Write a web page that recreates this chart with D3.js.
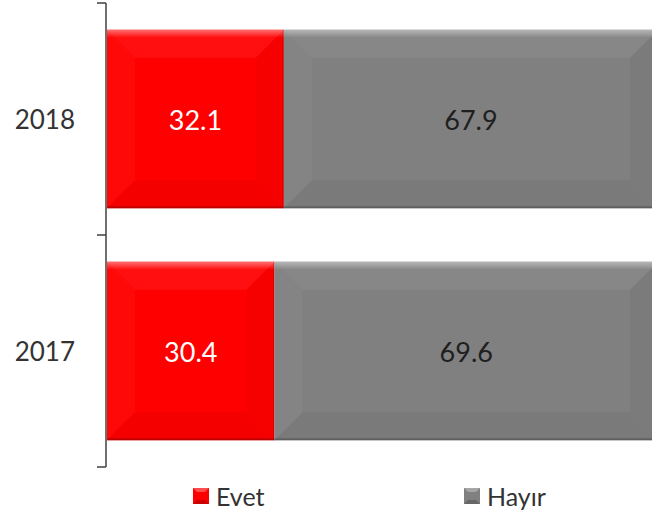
<!DOCTYPE html>
<html>
<head>
<meta charset="utf-8">
<script src="https://cdn.jsdelivr.net/npm/d3@7"></script>
<style>
  body { margin: 0; background: #fff; }
  svg { display: block; }
</style>
</head>
<body>
<script>
const width = 652;
const height = 515;

// datos
const years = ["2018", "2017"];
const evet = [32.1, 30.4];
const hayir = [67.9, 69.6];
const seriesNames = ["Evet", "Hayır"];
const seriesColors = ["#ff0000", "#808080"];
const labelColors = ["#ffffff", "#1f1f1f"];

const font = "Lato, 'Open Sans', sans-serif";
const bevel = 28;

const svg = d3.select("body")
  .append("svg")
  .attr("width", width)
  .attr("height", height);

const defs = svg.append("defs");
const clip = defs.append("clipPath").attr("id", "plot-clip");
clip.append("rect").attr("x", 0).attr("y", 0).attr("width", width).attr("height", height);

const topShine = defs.append("linearGradient")
  .attr("id", "top-shine").attr("x1", 0).attr("y1", 0).attr("x2", 0).attr("y2", 1);
topShine.append("stop").attr("offset", "0%").attr("stop-color", "#fff").attr("stop-opacity", 0.4);
topShine.append("stop").attr("offset", "100%").attr("stop-color", "#fff").attr("stop-opacity", 0);

const x = d3.scaleLinear().domain([0, 100]).range([107, 658]);
const y = d3.scaleBand().domain(years).range([3, 467])
  .paddingInner(0.23).paddingOuter(0.115);

// filas con segmentos acumulados
const rows = years.map((yr, i) => {
  const vals = [evet[i], hayir[i]];
  let acc = 0;
  return {
    year: yr,
    segs: vals.map((v, k) => {
      const s = {k, v, x0: acc, x1: acc + v};
      acc += v;
      return s;
    })
  };
});

const plot = svg.append("g").attr("clip-path", "url(#plot-clip)");

const rowG = plot.selectAll("g.row")
  .data(rows)
  .join("g")
  .attr("class", "row");

rowG.each(function (row) {
  const g = d3.select(this);
  const y0 = y(row.year);
  const y1 = y0 + y.bandwidth();
  row.segs.forEach(s => {
    const a = x(s.x0), b = x(s.x1);
    const bv = Math.min(bevel, (b - a) / 2, (y1 - y0) / 2);
    const seg = g.append("g");
    seg.append("rect")
      .attr("x", a).attr("y", y0)
      .attr("width", b - a).attr("height", y1 - y0)
      .attr("fill", seriesColors[s.k]);
    // biseles suaves
    const faces = [
      {pts: [[a, y0], [b, y0], [b - bv, y0 + bv], [a + bv, y0 + bv]], c: "#fff", o: 0.06},
      {pts: [[a, y0], [a + bv, y0 + bv], [a + bv, y1 - bv], [a, y1]], c: "#fff", o: 0.03},
      {pts: [[b, y0], [b, y1], [b - bv, y1 - bv], [b - bv, y0 + bv]], c: "#000", o: 0.035},
      {pts: [[a, y1], [a + bv, y1 - bv], [b - bv, y1 - bv], [b, y1]], c: "#000", o: 0.045}
    ];
    faces.forEach(f => {
      seg.append("polygon")
        .attr("points", f.pts.map(p => p.join(",")).join(" "))
        .attr("fill", f.c)
        .attr("fill-opacity", f.o);
    });
    seg.append("rect")
      .attr("x", a).attr("y", y0)
      .attr("width", b - a).attr("height", 8)
      .attr("fill", "url(#top-shine)");
    seg.append("rect")
      .attr("x", a).attr("y", y1 - 2)
      .attr("width", b - a).attr("height", 2)
      .attr("fill", "#000").attr("fill-opacity", 0.22);
    seg.append("rect")
      .attr("x", b - 1.5).attr("y", y0)
      .attr("width", 1.5).attr("height", y1 - y0)
      .attr("fill", "#000").attr("fill-opacity", 0.1);

    g.append("text")
      .attr("x", (a + b) / 2)
      .attr("y", (y0 + y1) / 2)
      .attr("text-anchor", "middle")
      .attr("dominant-baseline", "central")
      .style("font-family", font)
      .style("font-size", "27px")
      .attr("fill", labelColors[s.k])
      .text(s.v.toFixed(1));
  });
});

// eje vertical
const axisX = 106;
const edges = [y.range()[0], y.range()[0] + y.step(), y.range()[1]];
const axis = svg.append("g").attr("stroke", "#404040").attr("stroke-width", 1.5);
axis.append("line")
  .attr("x1", axisX).attr("x2", axisX)
  .attr("y1", edges[0]).attr("y2", edges[2]);
axis.selectAll("line.tick")
  .data(edges)
  .join("line")
  .attr("class", "tick")
  .attr("x1", axisX - 9).attr("x2", axisX)
  .attr("y1", d => d).attr("y2", d => d);

svg.append("g").selectAll("text")
  .data(years)
  .join("text")
  .attr("x", 75)
  .attr("y", d => y(d) + y.bandwidth() / 2)
  .attr("text-anchor", "end")
  .attr("dominant-baseline", "central")
  .style("font-family", font)
  .style("font-size", "26px")
  .attr("fill", "#333")
  .text(d => d);

// leyenda
const legendPos = [193, 464];
const legend = svg.append("g").selectAll("g")
  .data(seriesNames)
  .join("g")
  .attr("transform", (d, i) => `translate(${legendPos[i]}, 488)`);

legend.append("rect")
  .attr("width", 16).attr("height", 16)
  .attr("fill", (d, i) => seriesColors[i]);
legend.append("polygon")
  .attr("points", "0,0 16,0 12,4 4,4")
  .attr("fill", "#fff").attr("fill-opacity", 0.3);
legend.append("polygon")
  .attr("points", "0,16 16,16 12,12 4,12")
  .attr("fill", "#000").attr("fill-opacity", 0.2);
legend.append("text")
  .attr("x", 23)
  .attr("y", 8)
  .attr("dominant-baseline", "central")
  .style("font-family", font)
  .style("font-size", "25px")
  .attr("fill", "#333")
  .text(d => d);
</script>
</body>
</html>
